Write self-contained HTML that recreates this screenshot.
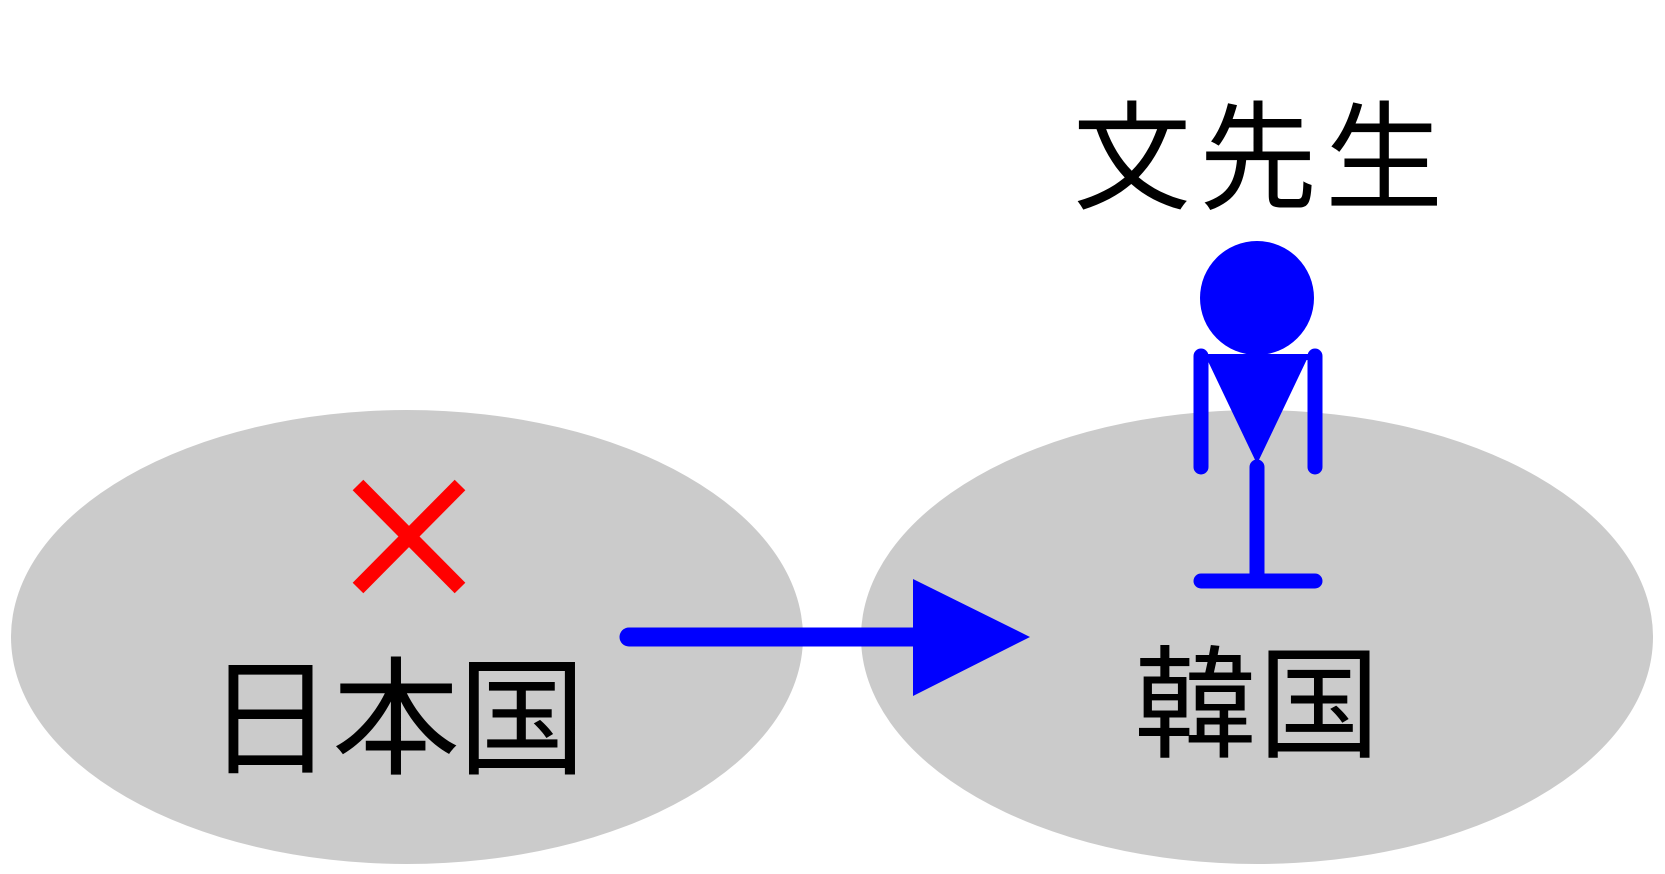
<!DOCTYPE html>
<html><head><meta charset="utf-8"><style>html,body{margin:0;padding:0;background:#fff;}svg{display:block}</style></head>
<body>
<svg width="1665" height="874" viewBox="0 0 1665 874" xmlns="http://www.w3.org/2000/svg">
<rect width="1665" height="874" fill="#fff"/>
<ellipse cx="407" cy="637" rx="396" ry="227" fill="#cbcbcb"/>
<ellipse cx="1257" cy="637" rx="396" ry="227" fill="#cbcbcb"/>
<g stroke="#ff0000" stroke-width="15">
<line x1="358" y1="485" x2="460" y2="588"/>
<line x1="460" y1="485" x2="358" y2="588"/>
</g>
<line x1="629" y1="637" x2="920" y2="637" stroke="#0000ff" stroke-width="19" stroke-linecap="round"/>
<polygon points="913,579 1030,637 913,696" fill="#0000ff"/>
<g font-family="'Liberation Sans','Noto Sans CJK JP',sans-serif" fill="#000">
<text x="206" y="764" font-size="128" textLength="380" lengthAdjust="spacing">日本国</text>
<text x="1134" y="748" font-size="122" textLength="246" lengthAdjust="spacing">韓国</text>
<text x="1073" y="200" font-size="118" textLength="370" lengthAdjust="spacing">文先生</text>
</g>
<circle cx="1257" cy="298" r="57" fill="#0000ff"/>
<g stroke="#0000ff" stroke-width="15" stroke-linecap="round">
<line x1="1201" y1="356" x2="1201" y2="467"/>
<line x1="1315" y1="356" x2="1315" y2="467"/>
<line x1="1201" y1="357" x2="1315" y2="357" stroke-width="6"/>
<line x1="1257" y1="467" x2="1257" y2="581"/>
<line x1="1201" y1="581" x2="1315" y2="581"/>
</g>
<polygon points="1206,357 1308,357 1257,464" fill="#0000ff"/>
</svg>
</body></html>
